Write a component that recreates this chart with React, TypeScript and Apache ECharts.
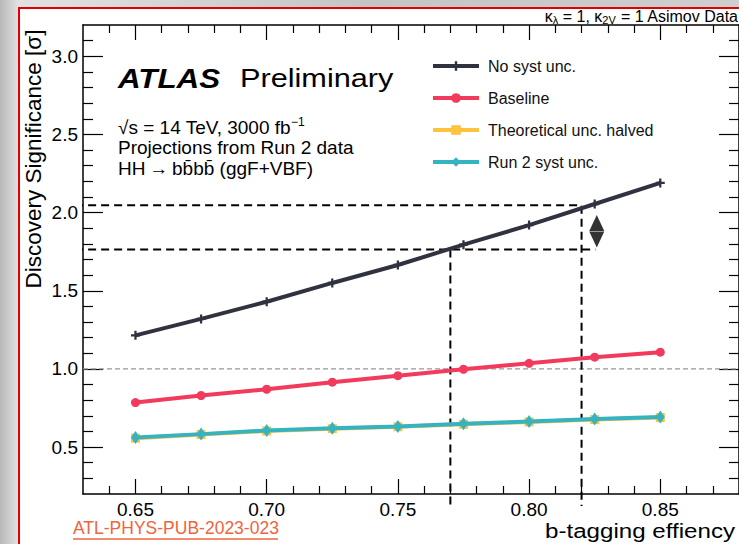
import React, { useEffect, useRef } from "react";
import * as echarts from "echarts";

// ---------- data ----------
const efficiency = [0.65, 0.675, 0.7, 0.725, 0.75, 0.775, 0.8, 0.825, 0.85];
const noSyst = [1.215, 1.32, 1.43, 1.55, 1.665, 1.795, 1.92, 2.055, 2.19];
const baseline = [0.785, 0.83, 0.87, 0.915, 0.957, 0.998, 1.036, 1.075, 1.107];
const theoryHalved = [0.557, 0.58, 0.603, 0.618, 0.63, 0.646, 0.661, 0.676, 0.689];
const run2Syst = [0.561, 0.583, 0.606, 0.621, 0.632, 0.649, 0.664, 0.679, 0.692];
const seriesNames = ["No syst unc.", "Baseline", "Theoretical unc. halved", "Run 2 syst unc."];
const seriesColors = ["#30333f", "#f23a5c", "#fdc23e", "#36b3c0"];

const xMajorTicks = [0.65, 0.7, 0.75, 0.8, 0.85];
const yMajorTicks = [0.5, 1.0, 1.5, 2.0, 2.5, 3.0];
const xRange = [0.63, 0.88];
const yRange = [0.2, 3.2];

// reference construction (dashed guides)
const sigHigh = 2.047;
const sigLow = 1.764;
const effHigh = 0.82;
const effLow = 0.77;
const guideStartEff = 0.627;
const guideEndLowEff = 0.8253;
const guideBottomSig = 0.123;
const arrowEff = 0.8258;
const arrowUpSig = 1.934;
const arrowDownSig = 1.828;
const referenceSig = 1.0;

const FONT = '"Liberation Sans", Arial, Helvetica, sans-serif';

function minorTicks(min: number, max: number, step: number, majors: number[]) {
  const out: number[] = [];
  const n = Math.round((max - min) / step);
  for (let i = 1; i < n; i++) {
    const v = +(min + i * step).toFixed(4);
    if (!majors.some((m) => Math.abs(m - v) < 1e-6)) out.push(v);
  }
  return out;
}

export default function App() {
  const ref = useRef<HTMLDivElement>(null);

  useEffect(() => {
    document.body.style.margin = "0";
    const chart = echarts.init(ref.current!, null, { renderer: "svg" });

    const xMinor = minorTicks(xRange[0], xRange[1], 0.01, xMajorTicks);
    const yMinor = minorTicks(yRange[0], yRange[1], 0.1, yMajorTicks);

    const axisLine = { show: true, lineStyle: { color: "#000", width: 1.5 } };
    const mkX = (pos: string, ticks: number[], len: number, labels: boolean, line: boolean) => ({
      type: "value",
      position: pos,
      min: xRange[0],
      max: xRange[1],
      splitLine: { show: false },
      axisLine: line ? axisLine : { show: false },
      axisTick: {
        show: true,
        inside: true,
        length: len,
        customValues: ticks,
        lineStyle: { color: "#000", width: 1.2 },
      },
      axisLabel: labels
        ? {
            show: true,
            customValues: xMajorTicks,
            formatter: (v: number) => v.toFixed(2),
            fontSize: 19,
            fontFamily: FONT,
            color: "#000",
            margin: 6,
          }
        : { show: false },
    });
    const mkY = (pos: string, ticks: number[], len: number, labels: boolean, line: boolean) => ({
      type: "value",
      position: pos,
      min: yRange[0],
      max: yRange[1],
      splitLine: { show: false },
      axisLine: line ? axisLine : { show: false },
      axisTick: {
        show: true,
        inside: true,
        length: len,
        customValues: ticks,
        lineStyle: { color: "#000", width: 1.2 },
      },
      axisLabel: labels
        ? {
            show: true,
            customValues: yMajorTicks,
            formatter: (v: number) => v.toFixed(1),
            fontSize: 19,
            fontFamily: FONT,
            color: "#000",
            margin: 5,
          }
        : { show: false },
    });

    const pairs = (ys: number[]) => efficiency.map((x, i) => [x, ys[i]]);

    const mainSeries = [
      { name: seriesNames[0], data: pairs(noSyst), color: seriesColors[0], symbol: "path://M3,0H5V3H8V5H5V8H3V5H0V3H3Z", symbolSize: 9 },
      { name: seriesNames[1], data: pairs(baseline), color: seriesColors[1], symbol: "circle", symbolSize: 9 },
      { name: seriesNames[2], data: pairs(theoryHalved), color: seriesColors[2], symbol: "rect", symbolSize: 9 },
      { name: seriesNames[3], data: pairs(run2Syst), color: seriesColors[3], symbol: "diamond", symbolSize: [9, 13] },
    ].map((s, i) => ({
      type: "line",
      name: s.name,
      data: s.data,
      xAxisIndex: 0,
      yAxisIndex: 0,
      symbol: s.symbol,
      symbolSize: s.symbolSize,
      showAllSymbol: true,
      lineStyle: { color: s.color, width: 4 },
      itemStyle: { color: s.color },
      z: 5 + i,
    }));

    const dashed = (data: number[][], color = "#000", width = 2, type: any = [8, 5]) => ({
      type: "line",
      data,
      xAxisIndex: 0,
      yAxisIndex: 0,
      symbol: "none",
      clip: false,
      silent: true,
      lineStyle: { color, width, type },
      z: 4,
    });

    chart.setOption({
      animation: false,
      backgroundColor: "transparent",
      grid: { left: 83, top: 25, width: 660, height: 469, containLabel: false },
      xAxis: [
        mkX("bottom", xMajorTicks, 15, true, true),
        mkX("bottom", xMinor, 8, false, false),
        mkX("top", xMajorTicks, 15, false, true),
        mkX("top", xMinor, 8, false, false),
      ],
      yAxis: [
        mkY("left", yMajorTicks, 20, true, true),
        mkY("left", yMinor, 10, false, false),
        mkY("right", yMajorTicks, 20, false, true),
        mkY("right", yMinor, 10, false, false),
      ],
      legend: {
        data: seriesNames,
        orient: "vertical",
        left: 431,
        top: 58,
        padding: 0,
        itemWidth: 46,
        itemHeight: 12,
        itemGap: 16,
        textStyle: { fontSize: 16, fontFamily: FONT, color: "#111", padding: [0, 0, 0, 4] },
        lineStyle: { width: 4 },
      },
      series: [
        dashed([[xRange[0], referenceSig], [xRange[1], referenceSig]], "#999", 1.2, [5, 3]),
        dashed([[guideStartEff, sigHigh], [effHigh, sigHigh], [effHigh, guideBottomSig]]),
        dashed([[guideStartEff, sigLow], [guideEndLowEff, sigLow]]),
        dashed([[effLow, sigLow], [effLow, guideBottomSig]]),
        ...mainSeries,
        {
          type: "scatter",
          xAxisIndex: 0,
          yAxisIndex: 0,
          symbol: "triangle",
          symbolSize: [15, 16],
          itemStyle: { color: "#000" },
          silent: true,
          z: 12,
          data: [
            { value: [arrowEff, arrowUpSig], symbolRotate: 0 },
            { value: [arrowEff, arrowDownSig], symbolRotate: 180 },
          ],
        },
      ],
      graphic: [
        {
          type: "rect",
          z: -100,
          shape: { x: 0, y: 0, width: 739, height: 544 },
          style: {
            fill: new echarts.graphic.LinearGradient(0, 0, 1, 0, [
              { offset: 0, color: "#b8b8b8" },
              { offset: 0.025, color: "#e2e2e2" },
              { offset: 0.5, color: "#c4c4c4" },
              { offset: 1, color: "#cfcfcf" },
            ]),
          },
        },
        {
          type: "rect",
          z: -99,
          shape: { x: 19, y: 8, width: 760, height: 600 },
          style: { fill: "#fff", stroke: "#e00000", lineWidth: 2 },
        },
        {
          type: "text",
          z: 20,
          x: 738,
          y: 16,
          style: {
            text: "{k|κ}{s|λ}{k| = 1, κ}{s|2V}{k| = 1 Asimov Data}",
            rich: {
              k: { fontSize: 16, fontFamily: FONT, fill: "#000", lineHeight: 18, verticalAlign: "middle" },
              s: { fontSize: 11, fontFamily: FONT, fill: "#000", lineHeight: 10, verticalAlign: "bottom" },
            },
            align: "right",
            verticalAlign: "middle",
          },
        },
        {
          type: "text",
          z: 20,
          x: 118,
          y: 78,
          scaleX: 1.12,
          style: { text: "ATLAS", font: `italic bold 28px ${FONT}`, fill: "#000", verticalAlign: "middle" },
        },
        {
          type: "text",
          z: 20,
          x: 240,
          y: 78,
          scaleX: 1.18,
          style: { text: "Preliminary", font: `26px ${FONT}`, fill: "#000", verticalAlign: "middle" },
        },
        {
          type: "text",
          z: 20,
          x: 118,
          y: 127,
          style: {
            text: "{t|√s = 14 TeV, 3000 fb}{sup|−1}",
            rich: {
              t: { fontSize: 19, fontFamily: FONT, fill: "#000", lineHeight: 22 },
              sup: { fontSize: 12, fontFamily: FONT, fill: "#000", lineHeight: 12, verticalAlign: "top" },
            },
            verticalAlign: "middle",
          },
        },
        {
          type: "text",
          z: 20,
          x: 118,
          y: 147,
          style: { text: "Projections from Run 2 data", font: `19px ${FONT}`, fill: "#000", verticalAlign: "middle" },
        },
        {
          type: "text",
          z: 20,
          x: 118,
          y: 168,
          style: { text: "HH\u2009→\u2009bb\u0304bb\u0304 (ggF+VBF)", font: `19px ${FONT}`, fill: "#000", verticalAlign: "middle" },
        },
        {
          type: "text",
          z: 20,
          x: 33,
          y: 159,
          rotation: Math.PI / 2,
          style: {
            text: "Discovery Significance [σ]",
            font: `22.5px ${FONT}`,
            fill: "#000",
            align: "center",
            verticalAlign: "middle",
          },
        },
        {
          type: "text",
          z: 20,
          x: 545,
          y: 531,
          scaleX: 1.15,
          style: { text: "b-tagging effiency", font: `21px ${FONT}`, fill: "#000", verticalAlign: "middle" },
        },
        {
          type: "text",
          z: 20,
          x: 73,
          y: 528,
          style: { text: "ATL-PHYS-PUB-2023-023", font: `17.5px ${FONT}`, fill: "#f0643c", verticalAlign: "middle" },
        },
        {
          type: "line",
          z: 20,
          shape: { x1: 73, y1: 539, x2: 278, y2: 539 },
          style: { stroke: "#f0643c", lineWidth: 1.5 },
        },
      ],
    });

    return () => chart.dispose();
  }, []);

  return (
    <div
      ref={ref}
      style={{ position: "absolute", left: 0, top: 0, width: 739, height: 544, overflow: "hidden" }}
    />
  );
}
